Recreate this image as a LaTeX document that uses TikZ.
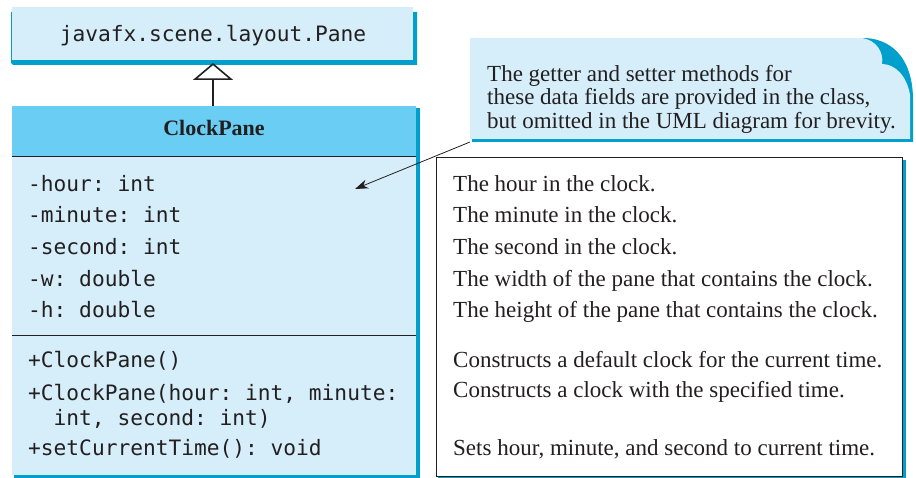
\documentclass[tikz,border=0pt]{standalone}
\usepackage{fontspec}
\setmainfont{Liberation Serif}
\setmonofont{DejaVu Sans Mono}
\usetikzlibrary{arrows.meta}
\definecolor{boxfill}{HTML}{D5EEFA}
\definecolor{headfill}{HTML}{69CDF4}
\definecolor{shadowblue}{HTML}{009FCC}
\definecolor{ink}{HTML}{231F20}
\begin{document}
\begin{tikzpicture}[x=1pt,y=-1pt,
  mono/.style={font=\fontsize{21.2}{25}\selectfont\ttfamily, anchor=base west, inner sep=0, text=ink},
  serif/.style={font=\fontsize{23}{27}\selectfont, anchor=base west, inner sep=0, text=ink},
  boxarea/.style={inner sep=0, outer sep=0},
  sep/.style={draw=ink, line width=1pt},
]
\useasboundingbox (0,0) rectangle (916,478);

% ---- superclass box
\fill[shadowblue] (11,12) -- (417,12) -- (417,65) -- (13,65) -- (11,63) -- cycle;
\fill[boxfill] (12,7) rectangle (413,60);
\node[boxarea, minimum width=401pt, minimum height=53pt] (pane) at (212.5,33.5) {};
\node[mono, anchor=base] (panetxt) at (213,42) {javafx.scene.layout.Pane};

% ---- class box
\fill[shadowblue] (14,108) rectangle (420,478);
\fill[boxfill] (12,106) rectangle (416,475);
\fill[headfill] (12,106) rectangle (416,157);
\node[boxarea, minimum width=404pt, minimum height=369pt] (cls) at (213,290.5) {};
\draw[sep] (12,157) -- (416,157);
\draw[sep] (12,336) -- (416,336);
\node[font=\fontsize{22}{26}\selectfont\bfseries, anchor=base, inner sep=0, text=ink] (clsname) at (214,136) {ClockPane};

\node[mono] (a1) at (28,191.7) {-hour: int};
\node[mono] (a2) at (28,223) {-minute: int};
\node[mono] (a3) at (28,255) {-second: int};
\node[mono] (a4) at (28,287) {-w: double};
\node[mono] (a5) at (28,318) {-h: double};
\node[mono] (m1) at (28,368) {+ClockPane()};
\node[mono] (m2) at (28,400) {+ClockPane(hour: int, minute:};
\node[mono] (m2b) at (53.5,425) {int, second: int)};
\node[mono] (m3) at (28,455) {+setCurrentTime(): void};

% ---- inheritance
\draw[line width=1.6pt, draw=ink, -{Triangle[open, fill=white, width=40pt, length=17pt, line width=1.6pt]}]
  (cls.north) -- (cls.north |- 0,63);

% ---- description box
\fill[shadowblue] (438,160) rectangle (906,478);
\node[boxarea, draw=ink, fill=white, line width=1pt, minimum width=466pt, minimum height=319pt] (desc) at (669,317) {};
\node[serif] (d1) at (453,191.7) {The hour in the clock.};
\node[serif] (d2) at (453,223) {The minute in the clock.};
\node[serif] (d3) at (453,255) {The second in the clock.};
\node[serif] (d4) at (453,287) {The width of the pane that contains the clock.};
\node[serif] (d5) at (453,318) {The height of the pane that contains the clock.};
\node[serif] (d6) at (453,368) {Constructs a default clock for the current time.};
\node[serif] (d7) at (453,398) {Constructs a clock with the specified time.};
\node[serif] (d8) at (453,455) {Sets hour, minute, and second to current time.};

% ---- callout note
\fill[shadowblue] (472,40) -- (866,38) .. controls (895,40) and (913,62) .. (913,100) -- (913,142) -- (472,142) -- cycle;
\fill[boxfill] (470,38) -- (862,38) .. controls (876,40) and (884,52) .. (882,64)
  .. controls (895,64) and (907,76) .. (910,95) -- (910,139) -- (470,139) -- cycle;
\node[boxarea, minimum width=443pt, minimum height=104pt] (note) at (691.5,90) {};
\node[serif] (n1) at (487,81.7) {The getter and setter methods for};
\node[serif] (n2) at (487,105) {these data fields are provided in the class,};
\node[serif] (n3) at (487,128.3) {but omitted in the UML diagram for brevity.};

\coordinate (tip) at (355,189);
\draw[draw=ink, line width=0.8pt, -{Stealth[length=13pt, width=9pt, inset=4pt]}] (note.south west) -- (tip);
\end{tikzpicture}
\end{document}
